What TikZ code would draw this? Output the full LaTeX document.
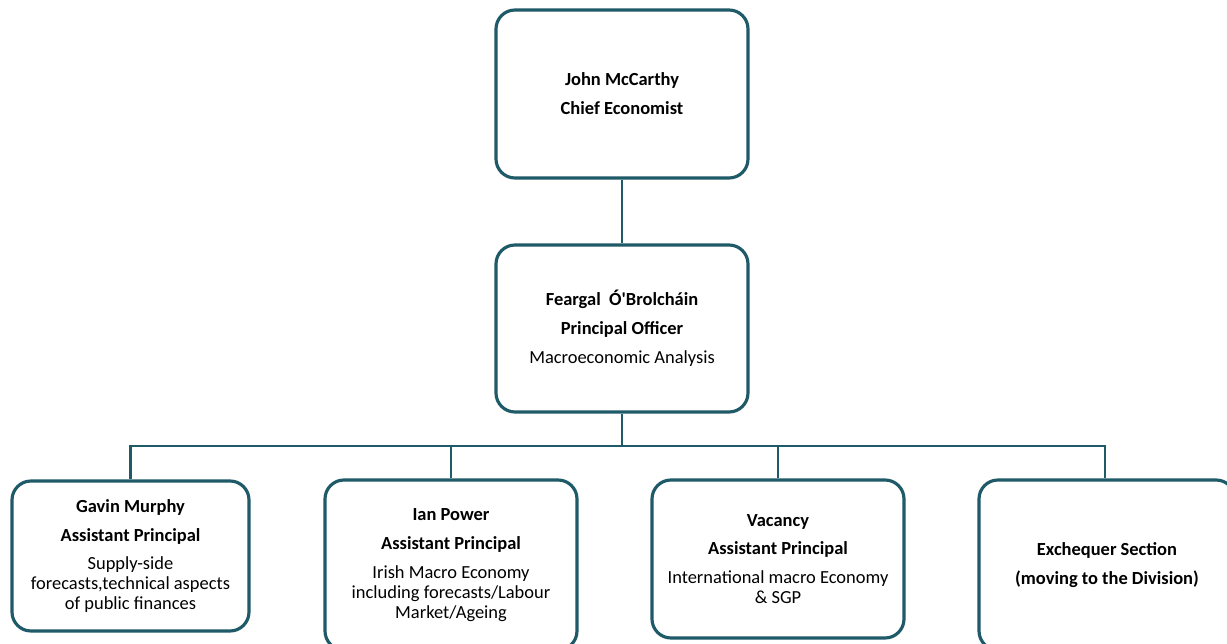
\documentclass[tikz,border=0pt]{standalone}
\usepackage{fontspec}
\setmainfont{Carlito}[Ligatures=TeXOff]
\definecolor{teal}{RGB}{30,90,104}
\begin{document}
\begin{tikzpicture}[x=0.02cm,y=-0.02cm,
  box/.style={draw=teal, line width=1.8pt, rounded corners=0.38cm, fill=white,
    align=center, inner sep=0pt, font=\fontsize{10.5}{11.3}\selectfont},
  link/.style={draw=teal, line width=1.2pt}]
\useasboundingbox (0,0) rectangle (1227,644);
\clip (0,0) rectangle (1227,644);

\coordinate (bus) at (622,446);

\node[box, minimum width=252*0.02cm, minimum height=168*0.02cm] (top) at (622,94)
  {\textbf{John McCarthy}\\[5.1pt]\textbf{Chief Economist}};
\node[box, minimum width=252*0.02cm, minimum height=167*0.02cm] (mid) at (622,328.5)
  {\textbf{Feargal\ \ Ó'Brolcháin}\\[5.1pt]\textbf{Principal Officer}\\[5.1pt]Macroeconomic Analysis};

\node[box, minimum width=237*0.02cm, minimum height=150*0.02cm] (b1) at (130.5,556)
  {\textbf{Gavin Murphy}\\[5.1pt]\textbf{Assistant Principal}\\[5.1pt]Supply-side\\forecasts,technical aspects\\of public finances};
\node[box, minimum width=252*0.02cm, minimum height=170*0.02cm] (b2) at (451,565)
  {\textbf{Ian Power}\\[5.1pt]\textbf{Assistant Principal}\\[5.1pt]Irish Macro Economy\\including forecasts/Labour\\Market/Ageing};
\node[box, minimum width=252*0.02cm, minimum height=158*0.02cm] (b3) at (778,559)
  {\textbf{Vacancy}\\[5.1pt]\textbf{Assistant Principal}\\[5.1pt]International macro Economy\\\& SGP};
\node[box, minimum width=256*0.02cm, minimum height=170*0.02cm] (b4) at (1107,565)
  {\textbf{Exchequer Section}\\[5.1pt]\textbf{(moving to the Division)}};

\draw[link] (top.south) -- (mid.north);
\draw[link] (mid.south) -- (bus);
\draw[link] (bus) -| (b1.north);
\draw[link] (bus) -| (b2.north);
\draw[link] (bus) -| (b3.north);
\draw[link] (bus) -| ([xshift=-2*0.02cm]b4.north);
\end{tikzpicture}
\end{document}
